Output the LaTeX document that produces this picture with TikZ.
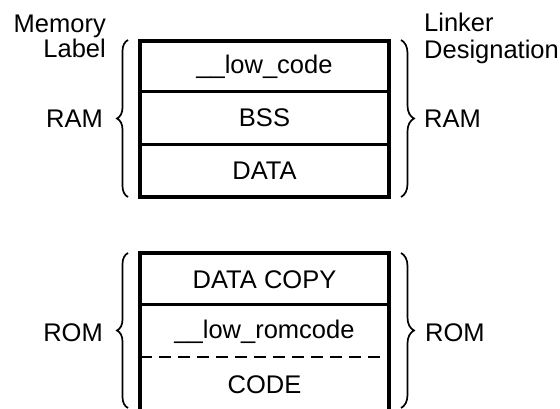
\documentclass[tikz,border=0pt]{standalone}
\usepackage{fontspec}
\setmainfont{Liberation Sans}
\usetikzlibrary{decorations.pathreplacing}
\begin{document}
\begin{tikzpicture}[x=1pt,y=-1pt,
  txt/.style={inner sep=0pt, font=\fontsize{25.5}{28}\selectfont},
  frame/.style={line width=3.4pt},
  sep/.style={line width=3pt},
  dashsep/.style={line width=2.2pt, dash pattern=on 12pt off 7pt},
  brc/.style={decorate, decoration={brace, amplitude=#1}, line width=1.7pt}]
\useasboundingbox (0,0) rectangle (560,409);
% RAM block
\coordinate (ramTL) at (140,41);
\coordinate (ramTR) at (389,41);
\coordinate (ramBL) at (140,197);
\coordinate (ramBR) at (389,197);
\coordinate (ramS1L) at (140,92);
\coordinate (ramS1R) at (389,92);
\coordinate (ramS2L) at (140,145);
\coordinate (ramS2R) at (389,145);
\draw[frame] (ramTL) -- (ramTR) -- (ramBR) -- (ramBL) -- cycle;
\draw[sep] (ramS1L) -- (ramS1R);
\draw[sep] (ramS2L) -- (ramS2R);
\node[txt, anchor=base] (lowcode) at (264.5,74) {\_\_low\_code};
\node[txt, anchor=base] (bss) at (264.5,127) {BSS};
\node[txt, anchor=base] (data) at (264.5,179) {DATA};
% ROM block
\coordinate (romTL) at (140,253);
\coordinate (romTR) at (389,253);
\coordinate (romBL) at (140,410);
\coordinate (romBR) at (389,410);
\coordinate (romS1L) at (140,304);
\coordinate (romS1R) at (389,304);
\coordinate (romS2L) at (140,357);
\coordinate (romS2R) at (389,357);
\draw[frame] (romBL) -- (romTL) -- (romTR) -- (romBR);
\draw[sep] (romS1L) -- (romS1R);
\draw[dashsep] (romS2L) -- (romS2R);
\node[txt, anchor=base] (datacopy) at (264.5,288) {DATA COPY};
\node[txt, anchor=base] (lowrom) at (264.5,338) {\_\_low\_romcode};
\node[txt, anchor=base] (code) at (264.5,393) {CODE};
% labels
\node[txt, anchor=base east] (memory) at (106,33) {Memory};
\node[txt, anchor=base east] (label) at (106,58) {Label};
\node[txt, anchor=base west] (linker) at (424,32) {Linker};
\node[txt, anchor=base west] (design) at (424,59) {Designation};
\node[txt, anchor=base east] (ramL) at (103,128) {RAM};
\node[txt, anchor=base west] (ramR) at (424,128) {RAM};
\node[txt, anchor=base east] (romL) at (103,341) {ROM};
\node[txt, anchor=base west] (romR) at (425,341) {ROM};
% braces
\coordinate (b1a) at (128,197);
\coordinate (b1b) at (128,40);
\coordinate (b2a) at (401,40);
\coordinate (b2b) at (401,197);
\coordinate (b3a) at (128,408);
\coordinate (b3b) at (128,253);
\coordinate (b4a) at (401,253);
\coordinate (b4b) at (401,408);
\draw[brc=11pt] (b1a) -- (b1b);
\draw[brc=13pt] (b2a) -- (b2b);
\draw[brc=11pt] (b3a) -- (b3b);
\draw[brc=13pt] (b4a) -- (b4b);
\end{tikzpicture}
\end{document}
